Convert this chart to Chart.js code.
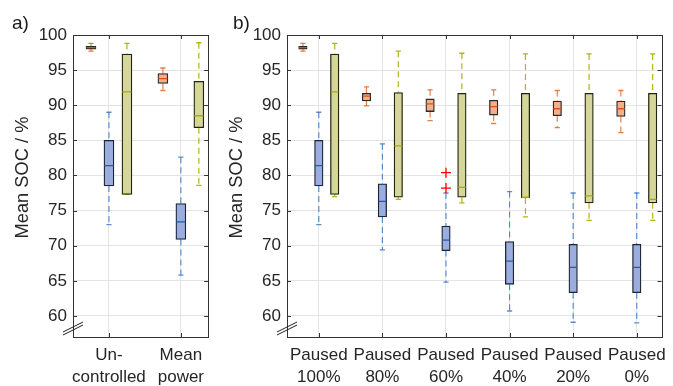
<!DOCTYPE html>
<html>
<head>
<meta charset="utf-8">
<script src="https://cdn.jsdelivr.net/npm/chart.js@4.4.0/dist/chart.umd.min.js"></script>
<style>
  body { margin: 0; background: #fff; width: 673px; height: 386px; position: relative; overflow: hidden;
         font-family: "Liberation Sans", Arial, sans-serif; }
  .panel { position: absolute; top: 0; height: 386px; }
  #wrapA { left: 0; width: 214px; }
  #wrapB { left: 214px; width: 459px; }
  .tag { position: absolute; font-size: 19px; line-height: 19px; color: #1a1a1a; }
</style>
</head>
<body>
<div class="panel" id="wrapA"><canvas id="chartA"></canvas></div>
<div class="panel" id="wrapB"><canvas id="chartB"></canvas></div>
<div class="tag" style="left:12px;top:13px">a)</div>
<div class="tag" style="left:233px;top:13px">b)</div>
<script>
// each box: [lower whisker, q1, median, q3, upper whisker]
var catsA = [['Un-', 'controlled'], ['Mean', 'power']];
var orangeA = [[97.7, 98.0, 98.2, 98.4, 98.8], [92.1, 93.1, 93.8, 94.5, 95.3]];
var blueA = [[73.0, 78.5, 81.4, 85.0, 89.0], [65.8, 70.9, 73.4, 76.0, 82.6]];
var oliveA = [[77.3, 77.3, 91.9, 97.3, 98.8], [78.6, 86.8, 88.5, 93.4, 98.9]];
var outliersA = [];

var catsB = [['Paused', '100%'], ['Paused', '80%'], ['Paused', '60%'], ['Paused', '40%'], ['Paused', '20%'], ['Paused', '0%']];
var orangeB = [
  [97.7, 98.0, 98.2, 98.4, 98.8],
  [89.9, 90.6, 91.3, 91.7, 92.6],
  [87.8, 89.1, 90.2, 90.9, 92.2],
  [87.4, 88.6, 89.8, 90.7, 92.2],
  [86.8, 88.5, 89.5, 90.6, 92.1],
  [86.1, 88.4, 89.5, 90.6, 92.1]
];
var blueB = [
  [73.0, 78.5, 81.4, 85.0, 89.0],
  [69.4, 74.1, 76.3, 78.8, 84.5],
  [64.8, 69.3, 70.8, 72.8, 77.5],
  [60.7, 64.5, 67.8, 70.6, 77.7],
  [59.1, 63.3, 66.9, 70.2, 77.5],
  [59.0, 63.3, 66.9, 70.2, 77.5]
];
var oliveB = [
  [77.0, 77.3, 91.9, 97.3, 98.8],
  [76.6, 76.9, 84.2, 91.8, 97.7],
  [76.1, 76.9, 78.3, 91.7, 97.4],
  [74.1, 76.8, 76.9, 91.7, 97.3],
  [73.6, 76.1, 77.1, 91.7, 97.3],
  [73.6, 76.1, 76.6, 91.7, 97.3]
];
// outliers of the blue series: [category, value]
var outliersB = [[3, 80.4], [3, 78.2]];

var yTicks = [60, 65, 70, 75, 80, 85, 90, 95, 100];
var yMin = 57, yMax = 100;
var yTitle = 'Mean SOC / %';

var FONT = '"Liberation Sans", Arial, sans-serif';
var TXT = '#262626';
var GRID = '#e4e4e4';

var styles = {
  orange: { fill: '#f4b088', edge: '#2a2a2a', med: '#d95319', whisk: 'rgba(224,106,40,0.85)', off: -0.25 },
  blue: { fill: '#9badde', edge: '#1c2633', med: '#1f5fa8', whisk: 'rgba(40,110,190,0.75)', off: 0 },
  olive: { fill: '#d5d79a', edge: '#23230f', med: '#a9ab00', whisk: 'rgba(170,172,0,0.9)', off: 0.25 }
};

function boxSets(stats, st, thick) {
  var boxes = [], whisk = [], caps = [], meds = [];
  stats.forEach(function(s, i) {
    var x = i + 1 + st.off;
    boxes.push({x: x, y: [s[1], s[3]]});
    whisk.push({x: x, y: s[4]}, {x: x, y: s[3]}, {x: x, y: null}, {x: x, y: s[1]}, {x: x, y: s[0]}, {x: x, y: null});
    caps.push({x: x, y: s[0]}, {x: x, y: s[4]});
    meds.push({x: x, y: s[2]});
  });
  return [
    { type: 'bar', data: boxes, backgroundColor: st.fill, borderColor: st.edge, borderWidth: 1.3,
      borderSkipped: false, barThickness: thick, grouped: false, order: 2 },
    { type: 'line', data: whisk, borderColor: st.whisk, borderWidth: 1.2, borderDash: [6, 4],
      pointRadius: 0, spanGaps: false, order: 3 },
    { type: 'scatter', data: caps, pointStyle: 'line', pointRadius: 2.6, borderColor: st.whisk,
      borderWidth: 1.3, pointHoverRadius: 0, order: 3 },
    { type: 'scatter', data: meds, pointStyle: 'line', pointRadius: thick / 2 - 0.5, borderColor: st.med,
      borderWidth: 1.3, order: 1 }
  ];
}

// box outline, inward tick marks, the axis break sign and the y title
var framePlugin = {
  id: 'frame',
  afterDraw: function(chart) {
    var ctx = chart.ctx, a = chart.chartArea;
    var xs = chart.scales.x, ys = chart.scales.y;
    ctx.save();
    ctx.strokeStyle = '#333';
    ctx.lineWidth = 1;
    ctx.strokeRect(Math.round(a.left) + 0.5, Math.round(a.top) + 0.5,
      Math.round(a.right - a.left), Math.round(a.bottom - a.top));
    ctx.beginPath();
    ys.ticks.forEach(function(t) {
      var y = Math.round(ys.getPixelForValue(t.value)) + 0.5;
      ctx.moveTo(a.left, y); ctx.lineTo(a.left + 4, y);
      ctx.moveTo(a.right, y); ctx.lineTo(a.right - 4, y);
    });
    xs.ticks.forEach(function(t) {
      var x = Math.round(xs.getPixelForValue(t.value)) + 0.5;
      ctx.moveTo(x, a.bottom); ctx.lineTo(x, a.bottom - 4);
      ctx.moveTo(x, a.top); ctx.lineTo(x, a.top + 4);
    });
    ctx.stroke();
    ctx.beginPath();
    ctx.strokeStyle = '#222';
    ctx.moveTo(a.left - 10, a.bottom - 5); ctx.lineTo(a.left + 10, a.bottom - 15);
    ctx.moveTo(a.left - 10, a.bottom - 2); ctx.lineTo(a.left + 10, a.bottom - 12);
    ctx.stroke();

    // title sits a little above the middle of the axis
    ctx.translate(a.left - 50.5, (a.top + a.bottom) / 2 - 8.5);
    ctx.rotate(-Math.PI / 2);
    ctx.fillStyle = TXT;
    ctx.font = '18.3px ' + FONT;
    ctx.textAlign = 'center';
    ctx.textBaseline = 'middle';
    ctx.fillText(yTitle, 0, 0);
    ctx.restore();
  }
};

function makePanel(id, cats, orange, blue, olive, outliers, xMax, thick, rightPad) {
  var sets = [].concat(boxSets(orange, styles.orange, thick), boxSets(blue, styles.blue, thick),
    boxSets(olive, styles.olive, thick));
  sets.push({ type: 'scatter', data: outliers.map(function(o) { return {x: o[0], y: o[1]}; }),
    pointStyle: 'cross', pointRadius: 5, borderColor: '#ff0000', borderWidth: 1.3, order: 0 });

  return new Chart(document.getElementById(id), {
    type: 'bar',
    data: { datasets: sets },
    plugins: [framePlugin],
    options: {
      responsive: true,
      maintainAspectRatio: false,
      animation: false,
      events: [],
      layout: { padding: { top: 35, right: rightPad, left: 0, bottom: 0 } },
      plugins: { legend: { display: false }, tooltip: { enabled: false } },
      scales: {
        x: {
          type: 'linear', min: 0.5, max: xMax, offset: false,
          afterBuildTicks: function(s) { s.ticks = cats.map(function(c, i) { return {value: i + 1}; }); },
          afterFit: function(s) { s.height = 49; },
          grid: { color: GRID, drawTicks: false, offset: false },
          border: { display: false },
          ticks: { color: TXT, font: { family: FONT, size: 17, lineHeight: 1.32 }, padding: 7, maxRotation: 0,
            autoSkip: false, callback: function(v) { return cats[Math.round(v) - 1]; } }
        },
        y: {
          min: yMin, max: yMax,
          afterBuildTicks: function(s) { s.ticks = yTicks.map(function(v) { return {value: v}; }); },
          afterFit: function(s) { s.width = 73; },
          grid: { color: GRID, drawTicks: false },
          border: { display: false },
          ticks: { color: TXT, font: { family: FONT, size: 17 }, padding: 6 }
        }
      }
    }
  });
}

makePanel('chartA', catsA, orangeA, blueA, oliveA, outliersA, 2.38, 10, 2);
makePanel('chartB', catsB, orangeB, blueB, oliveB, outliersB, 6.39, 8.5, 6);
</script>
</body>
</html>
